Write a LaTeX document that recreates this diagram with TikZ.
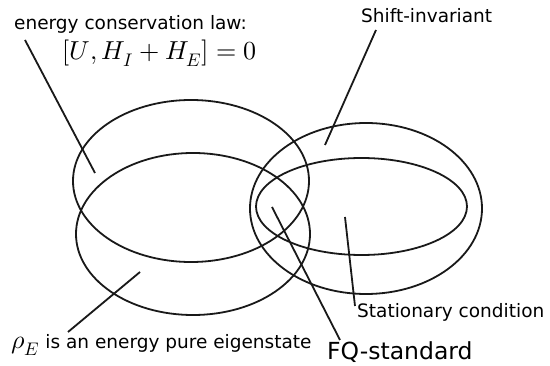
\documentclass[tikz,border=0pt]{standalone}
\usepackage{fontspec}
\setmainfont{DejaVu Sans}
\usepackage{unicode-math}
\setmathfont{Latin Modern Math}
\begin{document}
\begin{tikzpicture}[x=1pt,y=-1pt,
  setline/.style={line width=1.8pt,draw=black!90},
  ptr/.style={line width=1.8pt,draw=black!90},
  lbl/.style={inner sep=0pt,anchor=base west,font=\fontsize{18.5}{20}\selectfont},
]
\useasboundingbox (0,0) rectangle (550,366);
% sets
\draw[setline] (191,181) ellipse [x radius=118, y radius=81];
\draw[setline] (193,234) ellipse [x radius=117, y radius=81];
\draw[setline] (366,208.5) ellipse [x radius=116, y radius=85.5];
\draw[setline] (361.5,206.5) ellipse [x radius=105.5, y radius=48.5];
% labels
\node[lbl] (ecl) at (14,30) {energy conservation law:};
\node[inner sep=0pt,anchor=base west,font=\fontsize{26}{28}\selectfont] (form) at (62,60) {$[U,H_I+H_E]=0$};
\node[lbl] (shift) at (361,23) {Shift-invariant};
\node[lbl] (stat) at (357,318) {Stationary condition};
\node[lbl] (pure) at (11,349) {{\fontsize{26}{28}\selectfont$\rho_E$} is an energy pure eigenstate};
\node[inner sep=0pt,anchor=base west,font=\fontsize{23.5}{25}\selectfont] (fq) at (327,360) {FQ-standard};
% pointer ends
\coordinate (eclA) at (25,40);   \coordinate (eclB) at (95,173);
\coordinate (shA) at (376,30);   \coordinate (shB) at (325,145);
\coordinate (fqA) at (340,340);  \coordinate (fqB) at (272,207);
\coordinate (stA) at (355,306);  \coordinate (stB) at (345,217);
\coordinate (puA) at (68,332);   \coordinate (puB) at (140,272);
\draw[ptr] (eclA) -- (eclB);
\draw[ptr] (shA) -- (shB);
\draw[ptr] (fqA) -- (fqB);
\draw[ptr] (stA) -- (stB);
\draw[ptr] (puA) -- (puB);
\end{tikzpicture}
\end{document}
